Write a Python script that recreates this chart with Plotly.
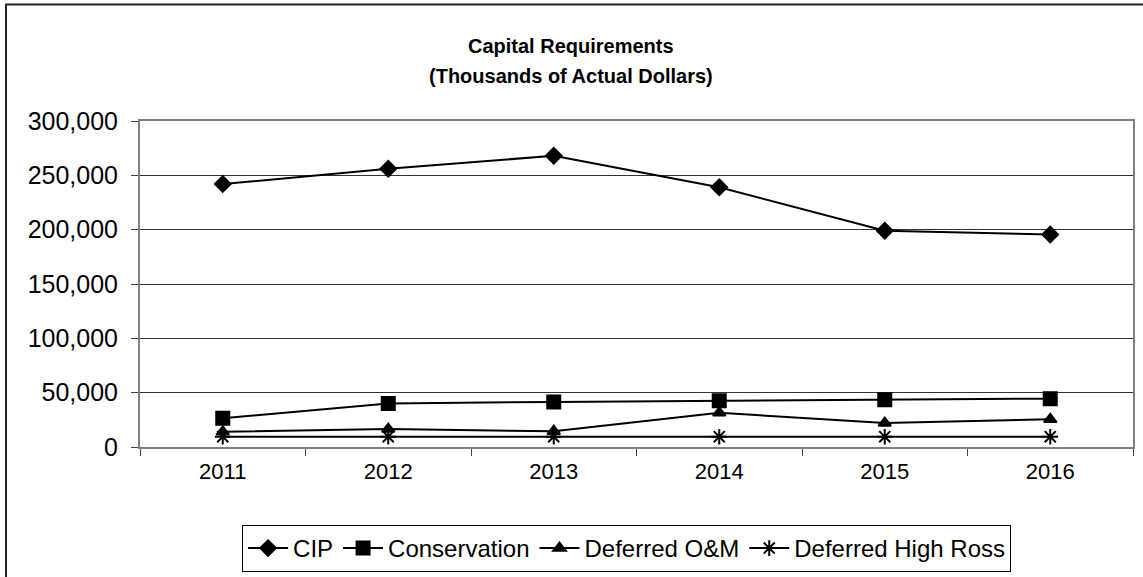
import plotly.graph_objects as go

years = ['2011', '2012', '2013', '2014', '2015', '2016']
cip = [242000, 256000, 268000, 239000, 199000, 195500]
conservation = [26500, 40000, 41500, 42500, 43500, 44500]
deferred_om = [14000, 16500, 14500, 31500, 22000, 25500]
high_ross = [9500, 9500, 9500, 9500, 9500, 9500]

title_lines = ['Capital Requirements', '(Thousands of Actual Dollars)']

FONT = 'Liberation Sans, Arial, sans-serif'

series = [
    ('CIP', cip, 'diamond', 12),
    ('Conservation', conservation, 'square', 13),
    ('Deferred O&M', deferred_om, 'triangle-up', 11),
    ('Deferred High Ross', high_ross, 'asterisk-open', 13),
]

fig = go.Figure()
for name, vals, sym, size in series:
    fig.add_trace(go.Scatter(x=years, y=vals, name=name, mode='lines+markers',
                             line=dict(color='black', width=2),
                             marker=dict(symbol=sym, size=size, color='black',
                                         line=dict(color='black', width=2))))

# two title lines as annotations so the spacing matches
annots = []
for i, txt in enumerate(title_lines):
    annots.append(dict(text=f'<b>{txt}</b>', xref='paper', yref='paper',
                       x=(571 - 140) / 993, y=(447 - 46 - 30 * i) / 326,
                       xanchor='center', yanchor='middle', showarrow=False,
                       font=dict(size=20, family=FONT, color='black')))

fig.update_layout(
    width=1143, height=577,
    margin=dict(l=140, r=10, t=121, b=130),
    plot_bgcolor='white', paper_bgcolor='white',
    font=dict(family=FONT, size=22, color='black'),
    annotations=annots,
    showlegend=True,
    legend=dict(orientation='h', x=0.49, xanchor='center',
                yref='container', y=1 - 525 / 577, yanchor='top',
                bordercolor='black', borderwidth=1, font=dict(size=24),
                itemwidth=40, tracegroupgap=0),
    shapes=[dict(type='rect', xref='paper', yref='paper',
                 x0=(6 - 140) / 993, x1=1.05, y0=-0.6, y1=(447 - 4.5) / 326,
                 line=dict(color='#222', width=2), layer='below')],
)
fig.update_xaxes(type='category', range=[-0.5, 5.5], tickson='boundaries',
                 ticks='outside', ticklen=7, tickcolor='#444', showgrid=False,
                 showline=True, linecolor='#808080', linewidth=2, mirror=True,
                 tickfont=dict(size=22), ticklabelstandoff=4, automargin=False)
fig.update_yaxes(range=[0, 300000], dtick=50000, tickformat=',', ticks='outside',
                 ticklen=7, tickcolor='#444', showgrid=True, gridcolor='#333',
                 gridwidth=1, showline=True, linecolor='#808080', linewidth=2,
                 mirror=True, zeroline=False, tickfont=dict(size=25),
                 ticklabelstandoff=8, automargin=False)

fig.write_html('out.html', config={'displayModeBar': False},
               post_script="document.body.style.margin='0';")
